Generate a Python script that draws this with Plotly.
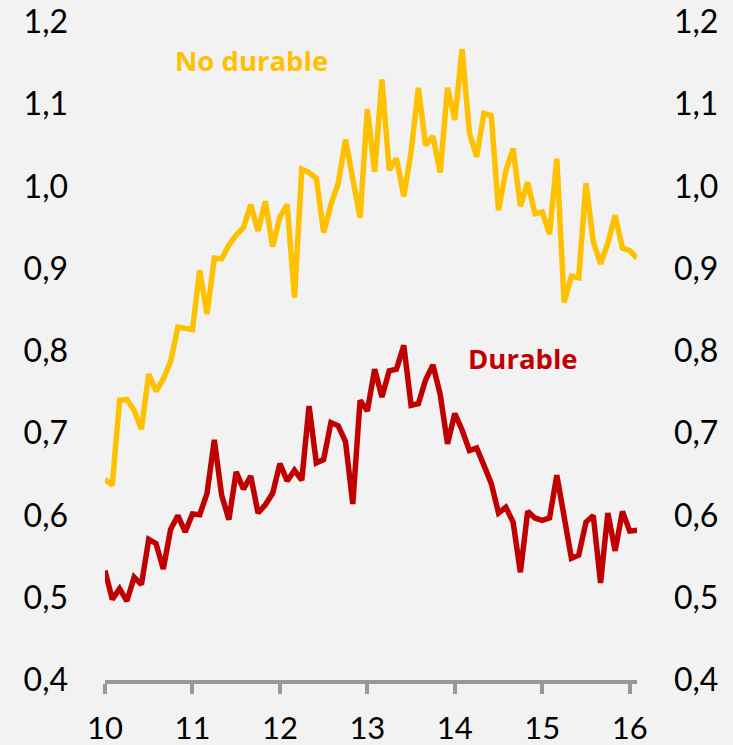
import plotly.graph_objects as go

# Monthly data, Jan 2010 .. Feb 2016
start_year = 2010
no_durable = [0.644, 0.637, 0.740, 0.741, 0.728, 0.705, 0.772, 0.751, 0.766, 0.787,
              0.829, 0.828, 0.826, 0.898, 0.845, 0.913, 0.912, 0.929, 0.941, 0.950,
              0.978, 0.946, 0.982, 0.927, 0.963, 0.978, 0.865, 1.021, 1.017, 1.010,
              0.944, 0.978, 1.004, 1.057, 1.008, 0.962, 1.094, 1.018, 1.130, 1.020,
              1.034, 0.988, 1.042, 1.120, 1.050, 1.061, 1.017, 1.120, 1.081, 1.167,
              1.065, 1.036, 1.089, 1.086, 0.971, 1.019, 1.046, 0.976, 1.005, 0.967,
              0.969, 0.942, 1.034, 0.859, 0.891, 0.889, 1.004, 0.933, 0.906, 0.931,
              0.965, 0.925, 0.922, 0.913]
durable = [0.533, 0.498, 0.511, 0.496, 0.525, 0.516, 0.571, 0.566, 0.535, 0.583,
           0.600, 0.580, 0.602, 0.601, 0.627, 0.692, 0.625, 0.595, 0.653, 0.632,
           0.648, 0.603, 0.613, 0.627, 0.663, 0.642, 0.655, 0.643, 0.733, 0.664,
           0.668, 0.713, 0.709, 0.690, 0.614, 0.740, 0.727, 0.778, 0.744, 0.776,
           0.778, 0.807, 0.734, 0.736, 0.765, 0.783, 0.747, 0.687, 0.724, 0.704,
           0.679, 0.682, 0.661, 0.639, 0.603, 0.610, 0.592, 0.531, 0.605, 0.597,
           0.594, 0.597, 0.649, 0.599, 0.548, 0.552, 0.592, 0.600, 0.518, 0.603,
           0.557, 0.605, 0.581, 0.582]
x_ticks = [2010, 2011, 2012, 2013, 2014, 2015, 2016]
x_labels = ["10", "11", "12", "13", "14", "15", "16"]
y_ticks = [0.4, 0.5, 0.6, 0.7, 0.8, 0.9, 1.0, 1.1, 1.2]

x = [start_year + i / 12 for i in range(len(durable))]

YELLOW = "#FFC000"
RED = "#C00000"
GRAY = "#989898"
BG = "#F2F2F2"
FONT = "Lato, Open Sans, sans-serif"

fig = go.Figure()
fig.add_trace(go.Scatter(x=x, y=no_durable, mode="lines", name="No durable",
                         line=dict(color=YELLOW, width=5.5), hoverinfo="skip"))
fig.add_trace(go.Scatter(x=x, y=durable, mode="lines", name="Durable",
                         line=dict(color=RED, width=5.5), hoverinfo="skip"))
# invisible trace to carry the mirrored right axis
fig.add_trace(go.Scatter(x=x, y=durable, mode="lines", yaxis="y2", showlegend=False,
                         line=dict(color="rgba(0,0,0,0)", width=0), hoverinfo="skip"))

fig.add_annotation(x=2011.67, y=1.153, text="<b>No durable</b>", showarrow=False,
                   font=dict(family="Open Sans", size=27.5, color=YELLOW))
fig.add_annotation(x=2014.78, y=0.791, text="<b>Durable</b>", showarrow=False,
                   font=dict(family="Open Sans", size=27.5, color=RED))

yaxis_common = dict(range=[0.4, 1.2], tickvals=y_ticks, tickformat=".1f",
                    showgrid=False, zeroline=False, showline=False, ticks="",
                    automargin=False,
                    tickfont=dict(family=FONT, size=32, color="#000000"),
                    ticklabelstandoff=36)

fig.update_layout(
    width=733, height=745,
    margin=dict(l=105, r=96, t=22, b=65, autoexpand=False),
    paper_bgcolor=BG, plot_bgcolor=BG,
    showlegend=False,
    separators=",.",
    xaxis=dict(range=[start_year, start_year + (len(durable) - 1) / 12],
               tickvals=x_ticks, ticktext=x_labels,
               showgrid=False, zeroline=False, automargin=False,
               showline=True, linecolor=GRAY, linewidth=4,
               ticks="outside", ticklen=10, tickwidth=4, tickcolor=GRAY,
               ticklabelstandoff=8,
               tickfont=dict(family=FONT, size=31, color="#000000")),
    yaxis=dict(side="left", **yaxis_common),
    yaxis2=dict(side="right", overlaying="y", **yaxis_common),
)

fig.write_html(
    "out.html",
    config={"displayModeBar": False},
    post_script="document.body.style.margin='0';document.body.style.background='#F2F2F2';",
)
